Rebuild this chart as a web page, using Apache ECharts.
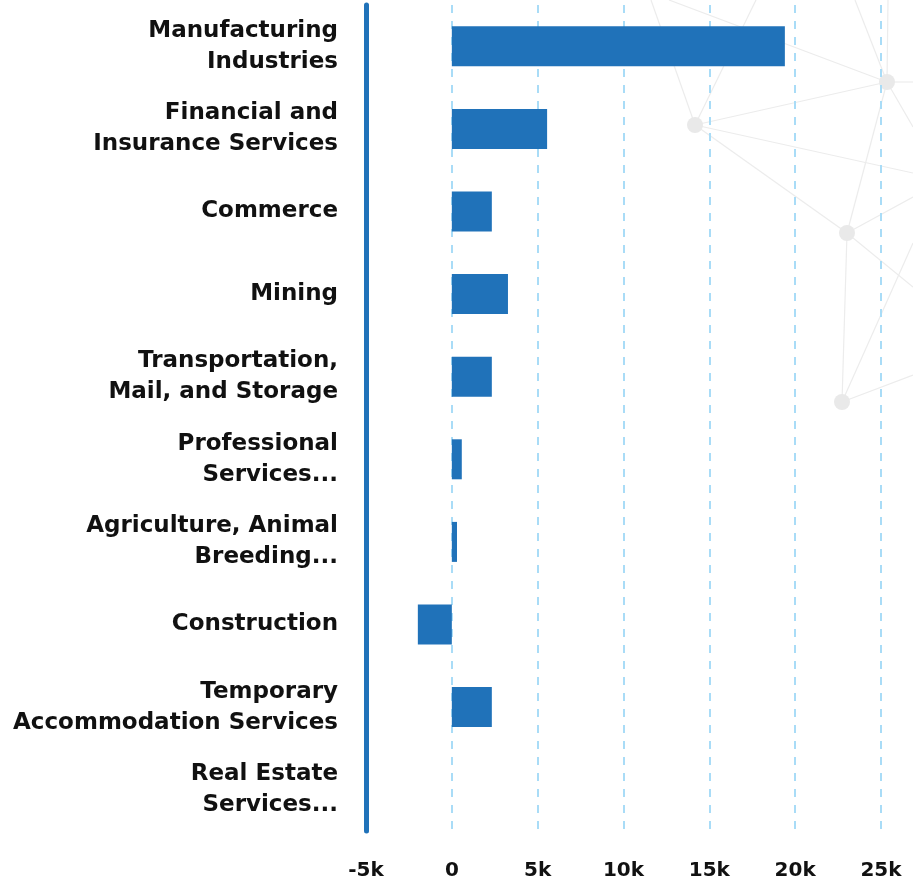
<!DOCTYPE html>
<html>
<head>
<meta charset="utf-8">
<script src="https://cdn.jsdelivr.net/npm/echarts@6/dist/echarts.min.js"></script>
<style>
  html, body { margin: 0; padding: 0; background: #fff; }
  #chart { width: 913px; height: 885px; }
</style>
</head>
<body>
<div id="chart"></div>
<script>
const categories = [
  'Manufacturing\nIndustries',
  'Financial and\nInsurance Services',
  'Commerce',
  'Mining',
  'Transportation,\nMail, and Storage',
  'Professional\nServices...',
  'Agriculture, Animal\nBreeding...',
  'Construction',
  'Temporary\nAccommodation Services',
  'Real Estate\nServices...'
]
const values = [19400, 5550, 2330, 3270, 2330, 580, 300, -1980, 2330, 0]
const tickLabels = { '-5000': '-5k', '0': '0', '5000': '5k', '10000': '10k', '15000': '15k', '20000': '20k', '25000': '25k' }

// decorative network in the background
const dots = [[695, 125], [887, 82], [847, 233], [842, 402]]
const links = [
  [651, 0, 695, 125], [756, 0, 695, 125], [669, 0, 887, 82], [695, 125, 887, 82],
  [695, 125, 913, 173], [695, 125, 847, 233], [855, 0, 887, 82], [888, 0, 887, 82],
  [887, 82, 913, 82], [887, 82, 913, 127], [887, 82, 847, 233], [847, 233, 913, 197],
  [847, 233, 913, 287], [847, 233, 842, 402], [842, 402, 913, 243], [842, 402, 913, 375]
]
const decor = links.map((l) => ({
  type: 'line', silent: true, z: -10,
  shape: { x1: l[0], y1: l[1], x2: l[2], y2: l[3] },
  style: { stroke: '#ececec', lineWidth: 1.2 }
})).concat(dots.map((d) => ({
  type: 'circle', silent: true, z: -9,
  shape: { cx: d[0], cy: d[1], r: 8 },
  style: { fill: '#e9e9e9' }
})))

const chart = echarts.init(document.getElementById('chart'), null, { renderer: 'canvas' })
const font = 'DejaVu Sans'
chart.setOption({
  animation: false,
  backgroundColor: '#fff',
  graphic: decor,
  grid: { left: 366, right: 32, top: 5, bottom: 54, containLabel: false, outerBoundsMode: 'none' },
  xAxis: {
    type: 'value',
    min: -5000,
    max: 25000,
    interval: 5000,
    axisLine: { show: false },
    axisTick: { show: false },
    axisLabel: {
      margin: 30,
      color: '#111',
      fontFamily: font,
      fontWeight: 'bold',
      fontSize: 20,
      formatter: (v) => tickLabels[String(v)]
    },
    splitLine: {
      show: true,
      lineStyle: { type: [8, 8], color: '#a9dcf7', width: 2 }
    }
  },
  yAxis: {
    type: 'category',
    inverse: true,
    data: categories,
    axisTick: { show: false },
    axisLine: { show: true, onZero: false, lineStyle: { color: '#2072b9', width: 5 } },
    axisLabel: {
      margin: 28,
      color: '#111',
      fontFamily: font,
      fontWeight: 'bold',
      fontSize: 23,
      lineHeight: 31,
      align: 'right'
    }
  },
  series: [{
    type: 'bar',
    data: values,
    barWidth: 40,
    itemStyle: { color: '#2072b9' }
  }]
})
</script>
</body>
</html>
